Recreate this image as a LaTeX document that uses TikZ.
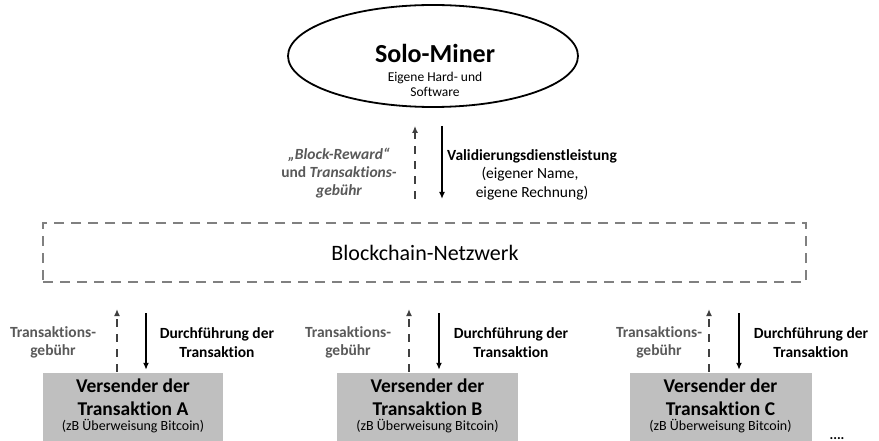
\documentclass[tikz,border=0pt]{standalone}
\usepackage{fontspec}
\setmainfont{Carlito}[Ligatures=NoCommon]
\usetikzlibrary{arrows.meta,shapes.geometric}
\definecolor{txtgray}{HTML}{595959}
\definecolor{boxgray}{HTML}{BFBFBF}
\definecolor{linegray}{HTML}{808080}
\definecolor{arrgray}{HTML}{404040}
\begin{document}
\begin{tikzpicture}[x=1pt,y=-1pt,
  solidarr/.style={line width=1.7pt, draw=black, -{Latex[length=7pt,width=6pt]}},
  dasharr/.style={line width=1.7pt, draw=arrgray, dash pattern=on 8pt off 7pt, -{Latex[length=7pt,width=6pt]}},
  graylbl/.style={inner sep=0, text=txtgray, font=\fontsize{15.5}{18}\selectfont\bfseries},
  blklbl/.style={inner sep=0, text=black, font=\fontsize{15.5}{18}\selectfont\bfseries},
  reglbl/.style={inner sep=0, text=black, font=\fontsize{15.5}{18}\selectfont},
  boxtitle/.style={inner sep=0, font=\fontsize{19.5}{22}\selectfont\bfseries},
  boxsub/.style={inner sep=0, font=\fontsize{14}{16}\selectfont},
  vbox/.style={fill=boxgray, draw=none, minimum height=74pt, inner sep=0},
  netbox/.style={draw=linegray, line width=2.2pt, dash pattern=on 10pt off 7pt, minimum width=763pt, minimum height=59pt, inner sep=0}]
\useasboundingbox (0,0) rectangle (879,441);
\clip (0,0) rectangle (879,441);

% Solo-Miner
\node[draw, ellipse, line width=1.8pt, minimum width=290pt, minimum height=102pt, inner sep=0] (miner) at (433,56) {};
\node[inner sep=0, anchor=base, font=\fontsize{26}{30}\selectfont\bfseries] (minert) at (435,63) {Solo-Miner};
\node[inner sep=0, anchor=base, font=\fontsize{13.5}{16}\selectfont] (miner2) at (435,82) {Eigene Hard- und};
\node[inner sep=0, anchor=base, font=\fontsize{13.5}{16}\selectfont] (miner3) at (435,97) {Software};

% Network
\node[netbox] (net) at (424.5,252.5) {};
\node[inner sep=0, font=\fontsize{22}{26}\selectfont] (nett) at (425,253) {Blockchain-Netzwerk};

% Miner <-> network arrows
\draw[dasharr, shorten <=23pt, shorten >=18pt] (net.north -| 415,0) -- (miner.south -| 415,0);
\draw[solidarr, shorten <=18pt, shorten >=23pt] (miner.south -| 442,0) -- (net.north -| 442,0);

\node[graylbl, anchor=base] (rew1) at (339,160) {\itshape „Block-Reward“};
\node[graylbl, anchor=base] (rew2) at (339,178) {und \itshape Transaktions-};
\node[graylbl, anchor=base] (rew3) at (339,196) {\itshape gebühr};

\node[blklbl, anchor=base] (val1) at (532,161) {Validierungsdienstleistung};
\node[reglbl, anchor=base] (val2) at (530,179) {(eigener Name,};
\node[reglbl, anchor=base] (val3) at (532,197) {eigene Rechnung)};

% Senders
\foreach \n/\bx/\bw/\tx/\dx/\sx/\vx in {A/133/180/53/117/146/217, B/427.5/181/348/409/439/511, C/720.5/182/659/709/739/811}{
  \node[vbox, minimum width=\bw pt] (box\n) at (\bx,410) {};
  \node[boxtitle, anchor=base] (ta\n) at (\bx,392) {Versender der};
  \node[boxtitle, anchor=base] (tb\n) at (\bx,415) {Transaktion \n};
  \node[boxsub, anchor=base] (tc\n) at (\bx,430) {(zB Überweisung Bitcoin)};
  \draw[dasharr, shorten <=1pt, shorten >=26pt] (box\n.north -| \dx,0) -- (net.south -| \dx,0);
  \draw[solidarr, shorten <=30pt, shorten >=3pt] (net.south -| \sx,0) -- (box\n.north -| \sx,0);
  \node[graylbl, anchor=base] (fa\n) at (\tx,337) {Transaktions-};
  \node[graylbl, anchor=base] (fb\n) at (\tx,355) {gebühr};
  \node[blklbl, anchor=base] (da\n) at (\vx,338) {Durchführung der};
  \node[blklbl, anchor=base] (db\n) at (\vx,357) {Transaktion};
}
\node[inner sep=0, anchor=base, font=\fontsize{14}{16}\selectfont\bfseries] (dots) at (837,439) {....};
\end{tikzpicture}
\end{document}
